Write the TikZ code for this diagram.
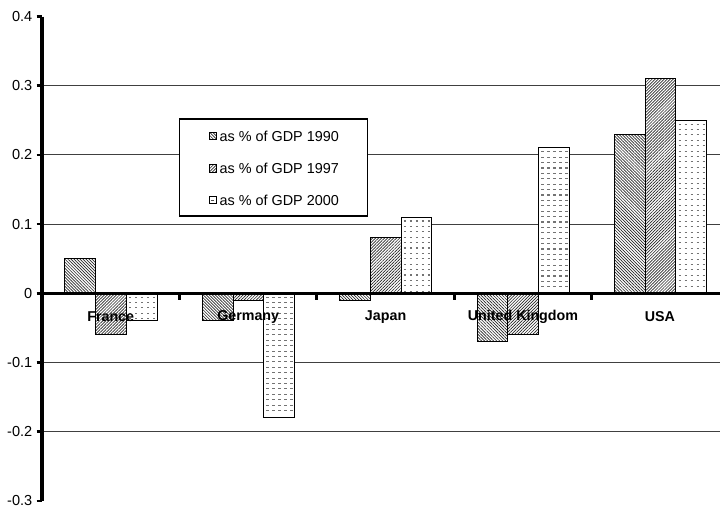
\documentclass[tikz,border=0pt]{standalone}
\usepackage{fontspec}
\setmainfont{Liberation Sans}
\usetikzlibrary{patterns,patterns.meta}

\tikzset{
  gridline/.style={draw=black!75, line width=0.8pt},
  axisline/.style={draw=black, line width=2.3pt},
  tickmark/.style={draw=black, line width=2pt},
  barbox/.style={draw=black, line width=0.75pt, preaction={fill=white}},
  ser90/.style={barbox, pattern={Lines[angle=-45,distance=1.6pt,line width=0.5pt]}, pattern color=black!85},
  ser97/.style={barbox, pattern={Lines[angle=45,distance=1.6pt,line width=0.5pt]}, pattern color=black!85},
  ser00/.style={barbox},
  dashrow/.style={draw=black!55, line width=0.8pt, dash pattern=on 1.75pt off 2.75pt},
  ticklabel/.style={anchor=east, inner sep=0pt, font=\fontsize{10.9}{13}\selectfont},
  catlabel/.style={inner sep=0pt, font=\fontsize{10.7}{13}\selectfont\bfseries},
  legendbox/.style={draw=black, line width=0.8pt, fill=white, minimum width=140.6pt, minimum height=72.75pt, inner sep=0pt},
  legendtext/.style={anchor=west, inner sep=0pt, font=\fontsize{10.8}{13}\selectfont},
  swatch/.style={minimum size=5.4pt, inner sep=0pt, line width=0.5pt}
}

\begin{document}
\begin{tikzpicture}[x=0.75pt, y=-0.75pt]
  % canvas
  \useasboundingbox (0,0) rectangle (720,508);

  % value -> vertical pixel position
  \def\zeroy{293.3}
  \def\unity{692}

  % horizontal gridlines
  \foreach \v in {0.3,0.2,0.1,-0.1,-0.2}
    \draw[gridline] (42,{\zeroy-\unity*\v}) -- (720,{\zeroy-\unity*\v});

  % bars: category, value 1990, value 1997, value 2000
  \foreach \i/\a/\b/\c in {0/0.05/-0.06/-0.04,
                           1/-0.04/-0.01/-0.18,
                           2/-0.01/0.08/0.11,
                           3/-0.07/-0.06/0.21,
                           4/0.23/0.31/0.25}{
    \pgfmathsetmacro{\xs}{42+137.4*\i+22.9}
    \draw[ser90] (\xs,\zeroy) rectangle ({\xs+30.7},{\zeroy-\unity*\a});
    \draw[ser97] ({\xs+30.7},\zeroy) rectangle ({\xs+61.4},{\zeroy-\unity*\b});
    \draw[ser00] ({\xs+61.4},\zeroy) rectangle ({\xs+92.1},{\zeroy-\unity*\c});
    % 2000 series: rows of short grey dashes inside the bar
    \pgfmathsetmacro{\ya}{min(\zeroy,\zeroy-\unity*\c)+3.8}
    \pgfmathsetmacro{\yb}{\ya+5.4}
    \pgfmathsetmacro{\ye}{max(\zeroy,\zeroy-\unity*\c)-2}
    \foreach \yy in {\ya,\yb,...,\ye}
      \draw[dashrow] ({\xs+64.1},\yy) -- ({\xs+90.6},\yy);
  }

  % value axis with ticks and labels
  \coordinate (ytop) at (42,{\zeroy-\unity*0.4});
  \coordinate (ybot) at (42,{\zeroy+\unity*0.3});
  \draw[axisline] (ytop) -- (ybot);
  \foreach \v/\t in {0.4/0.4,0.3/0.3,0.2/0.2,0.1/0.1,0/0,-0.1/-0.1,-0.2/-0.2,-0.3/-0.3}{
    \draw[tickmark] (36.5,{\zeroy-\unity*\v}) -- (42,{\zeroy-\unity*\v});
    \node[ticklabel] at (32.5,{\zeroy-\unity*\v}) {\t};
  }

  % category axis with ticks
  \coordinate (xleft) at (42,\zeroy);
  \coordinate (xright) at (720,\zeroy);
  \draw[axisline] (xleft) -- (xright);
  \foreach \i in {1,2,3,4}
    \draw[tickmark] ({42+137.4*\i},\zeroy) -- ({42+137.4*\i},299.5);

  % category labels
  \node[catlabel] (lblFrance)  at (110.7,316.7) {France};
  \node[catlabel] (lblGermany) at (248.2,316.7) {Germany};
  \node[catlabel] (lblJapan)   at (385.6,316.7) {Japan};
  \node[catlabel] (lblUK)      at (523.0,316.7) {United Kingdom};
  \node[catlabel] (lblUSA)     at (659.8,316.7) {USA};

  % legend
  \node[legendbox] (legend) at (273.3,167.5) {};
  \node[swatch, ser90] (sw90) at (212.8,136) {};
  \node[swatch, ser97] (sw97) at (212.8,168.5) {};
  \node[swatch, ser00] (sw00) at (212.8,200) {};
  \draw[draw=black!70, line width=0.75pt] (211.4,200.3) -- (214.2,200.3);
  \node[legendtext] (lt90) at (219.3,136)   {as \% of GDP 1990};
  \node[legendtext] (lt97) at (219.3,168.5) {as \% of GDP 1997};
  \node[legendtext] (lt00) at (219.3,200)   {as \% of GDP 2000};
\end{tikzpicture}
\end{document}
